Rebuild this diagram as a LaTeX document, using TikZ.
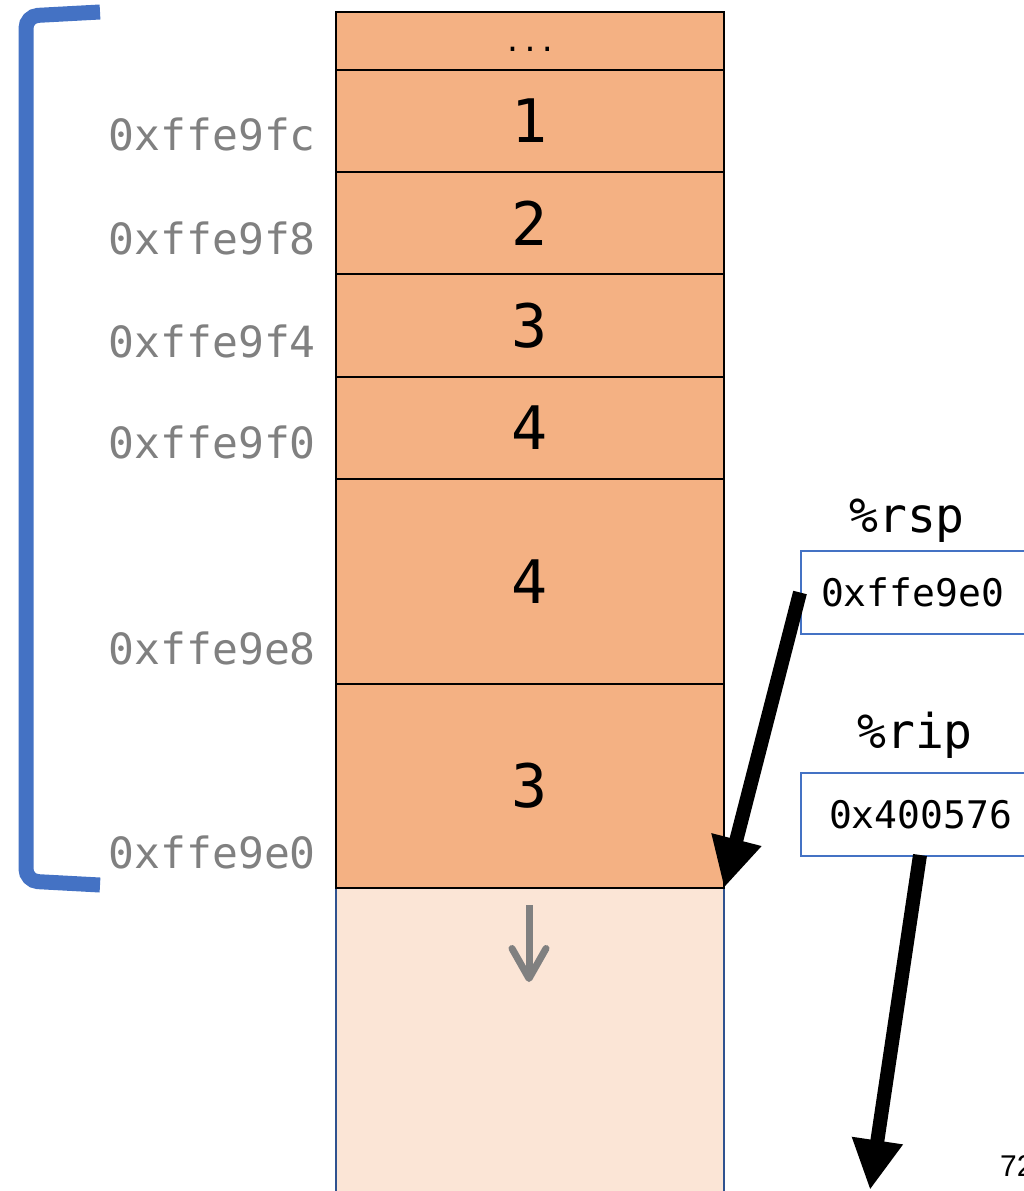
\documentclass[tikz,border=0pt]{standalone}
\usepackage{fontspec}
\newfontfamily\monofont{DejaVu Sans Mono}
\newfontfamily\pagefont{Liberation Sans}
\usetikzlibrary{arrows.meta}
\definecolor{stackfill}{HTML}{F4B183}
\definecolor{lightfill}{HTML}{FBE5D6}
\definecolor{brblue}{HTML}{4472C4}
\definecolor{addrgray}{HTML}{808080}
\definecolor{edgeblue}{HTML}{2F528F}
\tikzset{
  cell/.style={draw=black, line width=2, fill=stackfill, minimum width=388,
    minimum height=#1, inner sep=0, outer sep=0, anchor=north west,
    font=\monofont\fontsize{60}{60}\selectfont},
  addr/.style={anchor=base east, inner sep=0, text=addrgray,
    font=\monofont\fontsize{43}{43}\selectfont},
  reglabel/.style={anchor=base, inner sep=0, font=\monofont\fontsize{48}{48}\selectfont},
  regbox/.style={draw=brblue, line width=2, fill=white, minimum height=83,
    text width=200, align=left, anchor=north west, inner ysep=0,
    font=\monofont\fontsize{38}{38}\selectfont},
  bigarrow/.style={line width=14, -{Triangle[length=50, width=48]}},
  growarrow/.style={draw=addrgray, line width=7, -{Straight Barb[length=30, width=34, round]}},
  bracket/.style={draw=brblue, line width=15, rounded corners=12}
}
\begin{document}
\begin{tikzpicture}[x=1pt, y=-1pt]
\clip (0,0) rectangle (1024,1191);
\fill[white] (0,0) rectangle (1024,1191);

% bracket
\draw[bracket] (100,12) -- (26,16) -- (26,881) -- (100,885);

% light (free) region below the stack
\fill[lightfill] (336,888) rectangle (724,1200);
\draw[edgeblue, line width=1.5] (336,888) -- (336,1200);
\draw[edgeblue, line width=1.5] (724,888) -- (724,1200);

% stack cells
\node[cell=58]  (c0) at (336,12)  {};
\node[cell=102] (c1) at (336,70)  {1};
\node[cell=102] (c2) at (336,172) {2};
\node[cell=103] (c3) at (336,274) {3};
\node[cell=102] (c4) at (336,377) {4};
\node[cell=205] (c5) at (336,479) {4};
\node[cell=204] (c6) at (336,684) {3};
\node[anchor=base, inner sep=0, font=\monofont\fontsize{29}{29}\selectfont] (dots) at (530,51) {...};

% addresses
\node[addr] (a1) at (316,150) {0xffe9fc};
\node[addr] (a2) at (316,254) {0xffe9f8};
\node[addr] (a3) at (316,357) {0xffe9f4};
\node[addr] (a4) at (316,458) {0xffe9f0};
\node[addr] (a5) at (316,664) {0xffe9e8};
\node[addr] (a6) at (316,868) {0xffe9e0};

% growth arrow
\coordinate (gtop) at (529,905);
\coordinate (gbot) at (529,982);
\draw[growarrow] (gtop) -- (gbot);

% registers
\node[reglabel] (rsplabel) at (907,532) {\%rsp};
\node[regbox, inner xsep=20] (rsp) at (800,550) {0xffe9e0};
\node[reglabel] (riplabel) at (915,748) {\%rip};
\node[regbox, inner xsep=28] (rip) at (800,772) {0x400576};

% pointer arrows
\draw[bigarrow] (rsp.west) -- (c6.south east);
\coordinate (ripstart) at (920,855);
\coordinate (riptarget) at (870,1190);
\draw[bigarrow] (ripstart) -- (riptarget);

% slide number (cut by the right edge, as in the reference)
\node[anchor=base west, inner sep=0, font=\pagefont\fontsize{30}{30}\selectfont] (pagenum) at (1000,1176) {72};
\end{tikzpicture}
\end{document}
